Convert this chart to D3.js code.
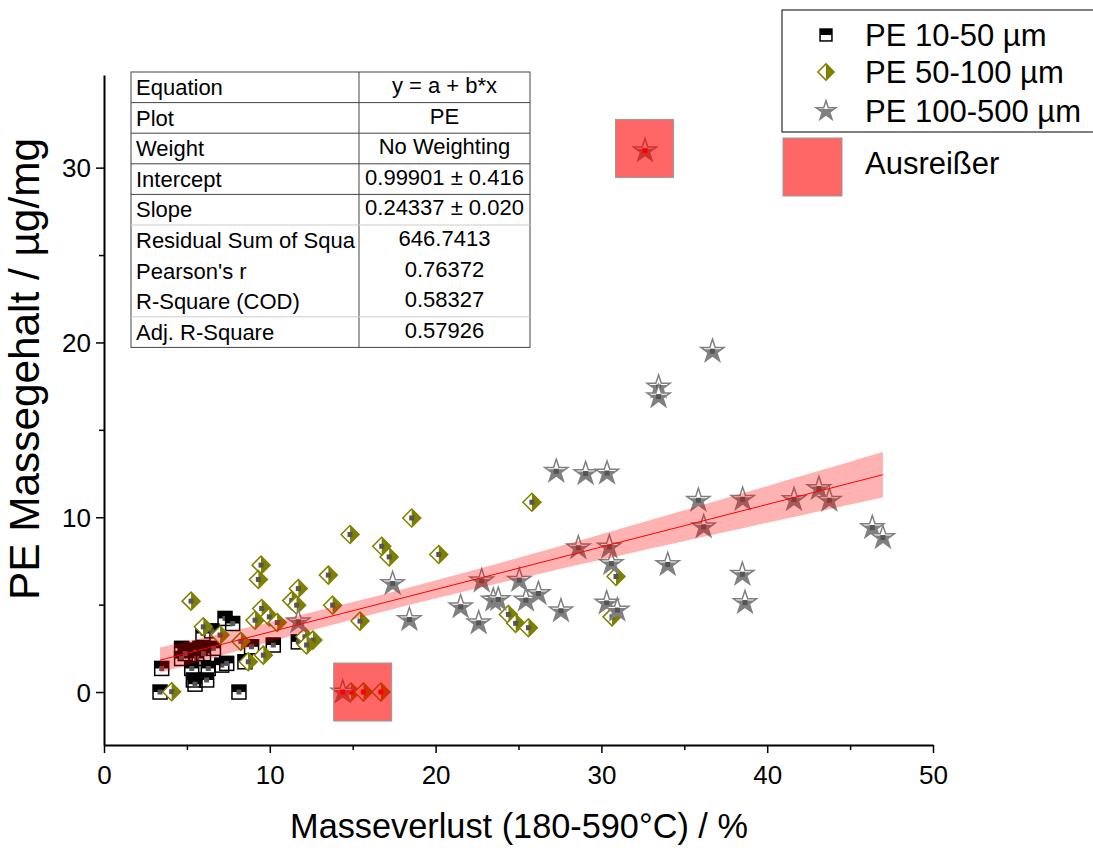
<!DOCTYPE html>
<html>
<head>
<meta charset="utf-8">
<script src="https://cdn.jsdelivr.net/npm/d3@7"></script>
<style>
  body { margin: 0; background: #fff; }
  svg text { font-family: "Liberation Sans", Arial, sans-serif; }
</style>
</head>
<body>
<div id="main"></div>
<script>
// PE 10-50 µm
const smallX = [3.38, 3.48, 8.14, 7.3, 7.76, 4.68, 5.29, 5.79, 6.6, 4.68, 5.59, 5.29, 6.29, 7.1, 7.4, 5.39, 5.49, 6.19, 8.5, 8.9, 10.21, 11.72, 5.97, 6.5, 6.0, 4.9];
const smallY = [0, 1.35, 0, 4.21, 3.92, 2.5, 2.4, 2.5, 2.5, 1.92, 1.92, 1.35, 1.35, 1.54, 1.64, 0.69, 0.45, 0.69, 1.73, 2.59, 2.69, 2.87, 3.35, 3.5, 2.2, 2.2];
// PE 50-100 µm
const midX = [4.08, 5.25, 5.99, 7.0, 8.25, 8.7, 9.61, 9.11, 9.51, 9.97, 10.45, 9.47, 9.31, 11.72, 11.32, 11.62, 13.53, 13.79, 15.44, 12.12, 12.6, 12.22, 14.84, 16.75, 17.2, 18.56, 20.19, 25.81, 30.88, 24.39, 24.83, 25.6, 30.64];
const midY = [0.02, 5.2, 3.73, 3.26, 2.9, 1.73, 2.11, 4.11, 4.78, 4.3, 3.98, 7.26, 6.44, 5.92, 5.23, 4.97, 6.69, 4.97, 4.06, 3.16, 2.97, 2.69, 9.01, 8.34, 7.73, 9.96, 7.87, 10.86, 6.61, 4.44, 3.93, 3.68, 4.3];
// PE 100-500 µm
const largeX = [36.7, 33.45, 33.45, 27.28, 29.05, 30.34, 35.85, 38.52, 41.62, 43.12, 43.75, 36.17, 46.34, 46.98, 28.61, 30.48, 30.6, 34.0, 38.5, 38.66, 22.78, 25.05, 21.51, 22.6, 23.48, 23.78, 25.45, 26.2, 27.56, 30.32, 30.96, 17.41, 18.42, 11.72];
const largeY = [19.5, 17.45, 16.9, 12.63, 12.5, 12.53, 10.97, 11.03, 11.01, 11.64, 10.97, 9.45, 9.41, 8.84, 8.25, 8.3, 7.35, 7.3, 6.74, 5.12, 6.36, 6.4, 4.88, 3.96, 5.26, 5.3, 5.26, 5.64, 4.65, 5.1, 4.69, 6.21, 4.15, 4.02];
// Ausreißer (outliers, not fitted)
const outX = [14.4, 14.9, 15.65, 16.7, 32.63];
const outY = [0, 0, 0, 0, 30.97];
const outType = ['large', 'mid', 'mid', 'mid', 'large'];
const outBoxX = [15.6, 32.6];
const outBoxY = [0, 31.1];

const xTicks = [0, 10, 20, 30, 40, 50];
const xMinor = [5, 15, 25, 35, 45];
const yTicks = [0, 10, 20, 30];
const yMinor = [5, 15, 25];

const seriesNames = ['PE 10-50 µm', 'PE 50-100 µm', 'PE 100-500 µm'];
const outlierName = 'Ausreißer';

// linear fit results
const fitIntercept = 0.99901, fitSlope = 0.24337;
const interceptSE = 0.416, slopeSE = 0.020, fitXMean = 16.6, tValue = 1.98;

const tableLabels = ['Equation', 'Plot', 'Weight', 'Intercept', 'Slope', 'Residual Sum of Squa', "Pearson's r", 'R-Square (COD)', 'Adj. R-Square'];
const tableValues = ['y = a + b*x', 'PE', 'No Weighting', '0.99901 ± 0.416', '0.24337 ± 0.020', '646.7413', '0.76372', '0.58327', '0.57926'];
const tableLines = [true, true, true, true, 'faint', false, false, 'faint'];

const width = 1093, height = 851;
const svg = d3.select('#main').append('svg')
    .attr('width', width)
    .attr('height', height);

const x = d3.scaleLinear().domain([0, 50]).range([104, 933]);
const y = d3.scaleLinear().domain([-3.03, 35.3]).range([745, 75]);

const defs = svg.append('defs');
defs.append('clipPath').attr('id', 'topHalf')
    .append('rect').attr('x', -30).attr('y', -30).attr('width', 60).attr('height', 28);

const olive = '#808000';
const starGray = '#808080';

function drawMarker(g, type, scale, dot) {
    if (type === 'small') {
        const s = 14 * scale;
        g.append('rect').attr('x', -s / 2).attr('y', -s / 2).attr('width', s).attr('height', s / 2).attr('fill', '#000');
        g.append('rect').attr('x', -s / 2).attr('y', -s / 2).attr('width', s).attr('height', s)
            .attr('fill', 'none').attr('stroke', '#000').attr('stroke-width', 1.5);
    } else if (type === 'mid') {
        const r = 9 * scale;
        g.append('path').attr('d', `M0,${-r}L${-r},0L0,${r}Z`).attr('fill', '#fff');
        g.append('path').attr('d', `M0,${-r}L${r},0L0,${r}Z`).attr('fill', olive);
        g.append('path').attr('d', `M0,${-r}L${r},0L0,${r}L${-r},0Z`)
            .attr('fill', 'none').attr('stroke', olive).attr('stroke-width', 1.5);
    } else {
        const star = d3.symbol().type(d3.symbolStar).size(165 * scale * scale)();
        g.append('path').attr('d', star).attr('fill', starGray);
        g.append('path').attr('d', star).attr('fill', '#fff').attr('clip-path', 'url(#topHalf)');
        g.append('path').attr('d', star).attr('fill', 'none').attr('stroke', starGray).attr('stroke-width', 1.5);
    }
    if (dot) {
        g.append('rect').attr('x', -2.5).attr('y', -2.5).attr('width', 5).attr('height', 5).attr('fill', dot);
    }
}

// fit a label's font size so that it spans the wanted length
function fitText(sel, target) {
    const len = sel.node().getComputedTextLength();
    const fs = parseFloat(sel.style('font-size'));
    sel.style('font-size', (fs * target / len) + 'px');
}

// axes
const xAxis = svg.append('g').attr('transform', 'translate(0,745)');
xAxis.call(d3.axisBottom(x).tickValues(xTicks).tickSize(8).tickSizeOuter(0));
const xMinorAxis = svg.append('g').attr('transform', 'translate(0,745)');
xMinorAxis.call(d3.axisBottom(x).tickValues(xMinor).tickSize(5).tickFormat(''));
xMinorAxis.select('.domain').remove();

const yAxis = svg.append('g').attr('transform', 'translate(104,0)');
yAxis.call(d3.axisLeft(y).tickValues(yTicks).tickSize(8).tickSizeOuter(0));
const yMinorAxis = svg.append('g').attr('transform', 'translate(104,0)');
yMinorAxis.call(d3.axisLeft(y).tickValues(yMinor).tickSize(5).tickFormat(''));
yMinorAxis.select('.domain').remove();

svg.selectAll('.domain').attr('stroke', '#000').attr('stroke-width', 2);
svg.selectAll('.tick line').attr('stroke', '#000').attr('stroke-width', 1.5);

xAxis.selectAll('.tick text')
    .style('font-size', '26px').attr('fill', '#000').attr('y', 39).attr('dy', 0);
yAxis.selectAll('.tick text')
    .style('font-size', '26px').attr('fill', '#000').attr('x', -13).attr('dy', '0.35em');

// axis titles
const xTitle = svg.append('text')
    .attr('x', 519).attr('y', 838)
    .attr('text-anchor', 'middle')
    .style('font-size', '30px')
    .text('Masseverlust (180-590°C) / %');
fitText(xTitle, 458);

const yTitle = svg.append('text')
    .attr('transform', 'translate(39,369) rotate(-90)')
    .attr('text-anchor', 'middle')
    .style('font-size', '30px')
    .text('PE Massegehalt / µg/mg');
fitText(yTitle, 462);

// points
const pts = svg.append('g');
function plotSeries(xs, ys, type) {
    xs.forEach((d, i) => {
        const g = pts.append('g').attr('transform', `translate(${x(d)},${y(ys[i])})`);
        drawMarker(g, type, 1, '#555');
    });
}
plotSeries(smallX, smallY, 'small');
outX.forEach((d, i) => {
    if (outType[i] === 'mid') {
        const g = pts.append('g').attr('transform', `translate(${x(d)},${y(outY[i])})`);
        drawMarker(g, 'mid', 1, '#ff0000');
    }
});
plotSeries(midX, midY, 'mid');
plotSeries(largeX, largeY, 'large');
outX.forEach((d, i) => {
    if (outType[i] === 'large') {
        const g = pts.append('g').attr('transform', `translate(${x(d)},${y(outY[i])})`);
        drawMarker(g, 'large', 1, '#ff0000');
    }
});

// fit line + 95% confidence band
const allX = smallX.concat(midX, largeX);
const x0 = d3.min(allX), x1 = d3.max(allX);
const bandXs = d3.range(0, 61).map(i => x0 + (x1 - x0) * i / 60);
const fitY = v => fitIntercept + fitSlope * v;
const halfW = v => tValue * Math.sqrt(Math.max(0, interceptSE * interceptSE + slopeSE * slopeSE * (v * v - 2 * v * fitXMean)));

svg.append('path')
    .datum(bandXs)
    .attr('fill', '#ff0000').attr('fill-opacity', 0.3)
    .attr('d', d3.area().x(d => x(d)).y0(d => y(fitY(d) - halfW(d))).y1(d => y(fitY(d) + halfW(d))));
svg.append('path')
    .datum([x0, x1])
    .attr('fill', 'none').attr('stroke', '#ff0000').attr('stroke-width', 1)
    .attr('d', d3.line().x(d => x(d)).y(d => y(fitY(d))));

// outlier boxes
outBoxX.forEach((d, i) => {
    svg.append('rect')
        .attr('x', x(d) - 29).attr('y', y(outBoxY[i]) - 29)
        .attr('width', 58).attr('height', 58)
        .attr('fill', '#ff0000').attr('fill-opacity', 0.6)
        .attr('stroke', '#999').attr('stroke-width', 1);
});

// table
const tLeft = 131, tRight = 530, tSplit = 359, tTop = 72, rowH = 30.6;
const table = svg.append('g');
table.append('rect').attr('x', tLeft).attr('y', tTop).attr('width', tRight - tLeft).attr('height', rowH * tableLabels.length)
    .attr('fill', '#fff').attr('stroke', '#444').attr('stroke-width', 1);
table.append('line').attr('x1', tSplit).attr('x2', tSplit).attr('y1', tTop).attr('y2', tTop + rowH * tableLabels.length)
    .attr('stroke', '#444');
tableLines.forEach((l, i) => {
    if (!l) return;
    table.append('line').attr('x1', tLeft).attr('x2', tRight)
        .attr('y1', tTop + rowH * (i + 1)).attr('y2', tTop + rowH * (i + 1))
        .attr('stroke', l === 'faint' ? '#ccc' : '#444');
});
tableLabels.forEach((t, i) => {
    table.append('text').attr('x', tLeft + 5).attr('y', tTop + rowH * i + 23)
        .style('font-size', '22px').text(t);
    table.append('text').attr('x', (tSplit + tRight) / 2).attr('y', tTop + rowH * i + 21)
        .style('font-size', '22px').attr('text-anchor', 'middle').text(tableValues[i]);
});

// legend
const legend = svg.append('g');
legend.append('rect').attr('x', 782).attr('y', 10).attr('width', 330).attr('height', 122)
    .attr('fill', '#fff').attr('stroke', '#000').attr('stroke-width', 1);
const legTypes = ['small', 'mid', 'large'];
const legScale = [0.85, 0.9, 0.85];
const legY = [35, 72, 111];
seriesNames.forEach((n, i) => {
    const g = legend.append('g').attr('transform', `translate(826,${legY[i]})`);
    drawMarker(g, legTypes[i], legScale[i], null);
    legend.append('text').attr('x', 865).attr('y', legY[i] + 11).style('font-size', '31px').text(n);
});
legend.append('rect').attr('x', 783).attr('y', 138).attr('width', 59).attr('height', 58)
    .attr('fill', '#ff0000').attr('fill-opacity', 0.6).attr('stroke', '#999');
legend.append('text').attr('x', 865).attr('y', 174).style('font-size', '31px').text(outlierName);
</script>
</body>
</html>
